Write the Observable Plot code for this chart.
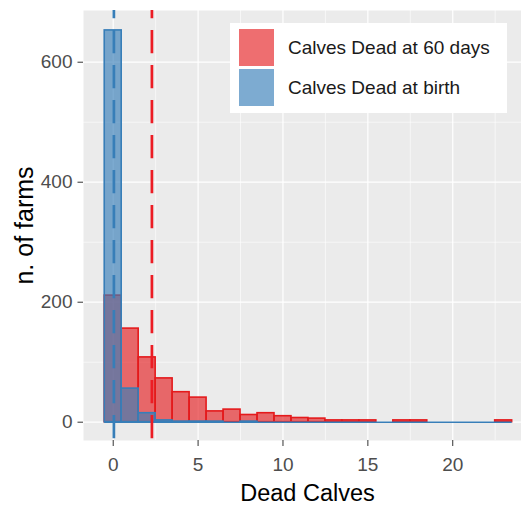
<!DOCTYPE html>
<html>
<head>
<meta charset="utf-8">
<script src="https://cdn.jsdelivr.net/npm/d3@7"></script>
<script src="https://cdn.jsdelivr.net/npm/@observablehq/plot@0.6"></script>
<style>
  body { margin: 0; background: white; }
  #wrap { position: relative; width: 521px; height: 507px; font-family: "Liberation Sans", Arial, sans-serif; }
  #legend { position: absolute; left: 230px; top: 23px; width: 277px; height: 90px; background: white; }
  .key { position: absolute; left: 9px; width: 35px; height: 37px; }
  .lab { position: absolute; left: 58px; font-size: 19px; color: #1a1a1a; line-height: 37px; white-space: nowrap; }
</style>
</head>
<body>
<div id="wrap"></div>
<script>
// Bin centres (binwidth 1)
const bins = [0,1,2,3,4,5,6,7,8,9,10,11,12,13,14,15,16,17,18,19,20,21,22,23];
// Number of farms per bin
const dead60 = [211,156,108,73,50,41,18,21,12,15,10,7,6,3,3,3,0,3,3,0,0,0,0,3];
const deadBirth = [653,56,15,3,1,1,1,0,1,0,0,0,0,0,0,0,0,0,0,0,0,0,0,0];
// Mean lines
const mean60 = 2.28;
const meanBirth = 0.04;
// Ticks
const xTicks = [0,5,10,15,20];
const xMinor = [2.5,7.5,12.5,17.5,22.5];
const yTicks = [0,200,400,600];
const yMinor = [100,300,500];
const seriesNames = ["Calves Dead at 60 days", "Calves Dead at birth"];

const red = "#E41A1C", blue = "#377EB8";
const d60 = bins.map((b,i) => ({bin: b, count: dead60[i]}));
const dB = bins.map((b,i) => ({bin: b, count: deadBirth[i]}));
const binExtent = [{x1: d3.min(bins) - 0.5, x2: d3.max(bins) + 0.5}];

const plot = Plot.plot({
  width: 521, height: 507,
  marginLeft: 83, marginRight: 0, marginTop: 10, marginBottom: 67,
  style: {fontFamily: '"Liberation Sans", Arial, sans-serif', background: "white", overflow: "visible"},
  x: {domain: [-1.75, 24.05]},
  y: {domain: [-30.5, 686.2]},
  marks: [
    Plot.frame({fill: "#EBEBEB", stroke: null}),
    Plot.ruleX(xMinor, {stroke: "white", strokeWidth: 0.6}),
    Plot.ruleY(yMinor, {stroke: "white", strokeWidth: 0.6}),
    Plot.ruleX(xTicks, {stroke: "white", strokeWidth: 1.2}),
    Plot.ruleY(yTicks, {stroke: "white", strokeWidth: 1.2}),
    Plot.rectY(d60, {x1: d => d.bin - 0.5, x2: d => d.bin + 0.5, y: "count", fill: red, fillOpacity: 0.63, stroke: red, strokeWidth: 1.6}),
    Plot.rectY(dB, {x1: d => d.bin - 0.5, x2: d => d.bin + 0.5, y: "count", fill: blue, fillOpacity: 0.65, stroke: blue, strokeWidth: 1.6}),
    Plot.ruleY(binExtent, {x1: "x1", x2: "x2", y: 0, stroke: blue, strokeWidth: 1.6}),
    Plot.ruleX([meanBirth], {stroke: blue, strokeWidth: 2.7, strokeDasharray: "23.3,11.7", strokeDashoffset: 15}),
    Plot.ruleX([mean60], {stroke: "#EC1C24", strokeWidth: 2.7, strokeDasharray: "23.3,11.7", strokeDashoffset: 15}),
    Plot.axisX({ticks: xTicks, tickSize: 6, tickPadding: 11, fontSize: 19, color: "#4D4D4D", stroke: "#333", label: null, tickFormat: d => d}),
    Plot.axisY({ticks: yTicks, tickSize: 5.5, tickPadding: 5.5, fontSize: 19, color: "#4D4D4D", stroke: "#333", label: null, tickFormat: d => d}),
    Plot.text(["Dead Calves"], {frameAnchor: "bottom", dx: 5, dy: 52.5, lineAnchor: "middle", fontSize: 23.5, fill: "black"}),
    Plot.text(["n. of farms"], {frameAnchor: "left", dx: -58.5, rotate: -90, lineAnchor: "middle", textAnchor: "middle", fontSize: 25, fill: "black"})
  ]
});
const wrap = document.getElementById("wrap");
wrap.appendChild(plot);

const legend = document.createElement("div");
legend.id = "legend";
const colors = ["rgba(228,26,28,0.63)", "rgba(55,126,184,0.65)"];
seriesNames.forEach((name, i) => {
  const k = document.createElement("div");
  k.className = "key";
  k.style.top = (6 + i * 40) + "px";
  k.style.background = colors[i];
  legend.appendChild(k);
  const t = document.createElement("div");
  t.className = "lab";
  t.style.top = (6 + i * 40) + "px";
  t.textContent = name;
  legend.appendChild(t);
});
wrap.appendChild(legend);
</script>
</body>
</html>
